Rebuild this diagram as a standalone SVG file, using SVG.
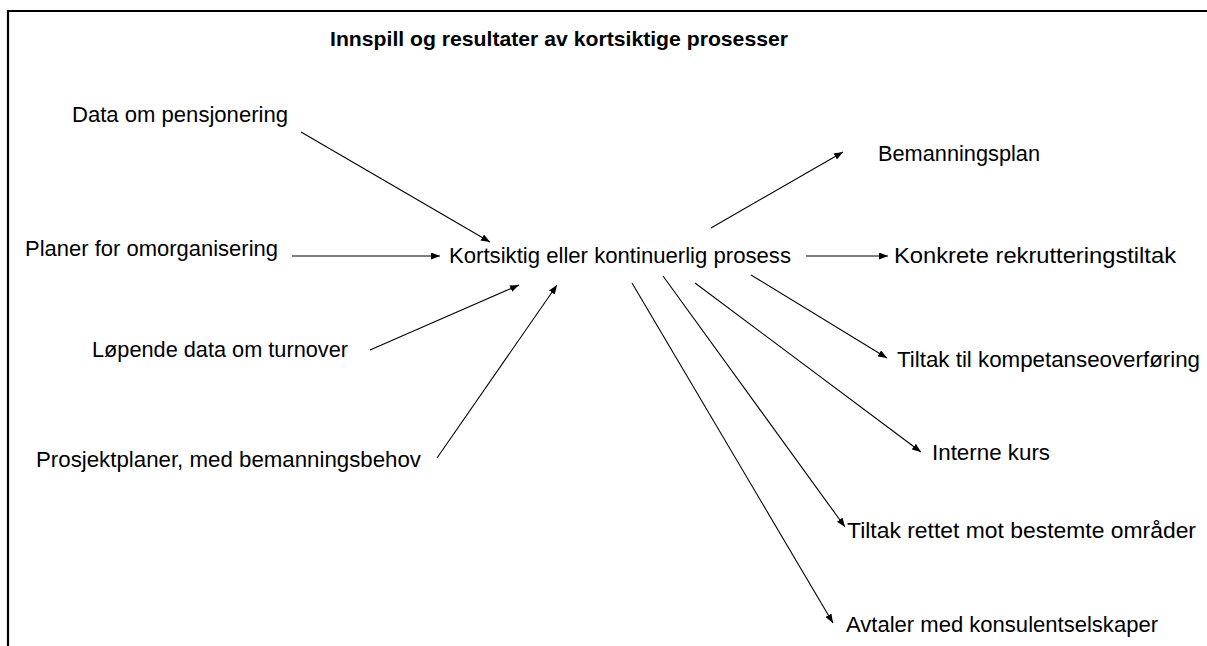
<svg xmlns="http://www.w3.org/2000/svg" width="1207" height="646" viewBox="0 0 1207 646">
<style>
.t{font-family:"Liberation Sans",Arial,sans-serif;font-size:22px;fill:#000}
.title{font-family:"Liberation Sans",Arial,sans-serif;font-size:21px;font-weight:bold;fill:#000}
.c line{stroke:#000;stroke-width:1.1;marker-end:url(#ah)}
</style>
<defs>
<marker id="ah" viewBox="0 0 9 7" refX="9" refY="3.5" markerWidth="9" markerHeight="7" markerUnits="userSpaceOnUse" orient="auto">
<path d="M0,0 L9,3.5 L0,7 Z" fill="#000"/>
</marker>
</defs>
<rect width="1207" height="646" fill="#fff"/>
<path d="M8,646 V11 H1207" fill="none" stroke="#000" stroke-width="2.2"/>
<text class="title" x="330" y="46" textLength="458" lengthAdjust="spacingAndGlyphs">Innspill og resultater av kortsiktige prosesser</text>
<g id="data-pensjonering"><text class="t" x="72" y="122" textLength="216" lengthAdjust="spacingAndGlyphs">Data om pensjonering</text></g>
<g id="planer-omorganisering"><text class="t" x="25" y="256" textLength="253" lengthAdjust="spacingAndGlyphs">Planer for omorganisering</text></g>
<g id="kortsiktig-prosess"><text class="t" x="449" y="263" textLength="342" lengthAdjust="spacingAndGlyphs">Kortsiktig eller kontinuerlig prosess</text></g>
<g id="lopende-turnover"><text class="t" x="92" y="357" textLength="256" lengthAdjust="spacingAndGlyphs">Løpende data om turnover</text></g>
<g id="prosjektplaner"><text class="t" x="36" y="467" textLength="385" lengthAdjust="spacingAndGlyphs">Prosjektplaner, med bemanningsbehov</text></g>
<g id="bemanningsplan"><text class="t" x="878" y="161" textLength="162" lengthAdjust="spacingAndGlyphs">Bemanningsplan</text></g>
<g id="konkrete-rekruttering"><text class="t" x="894" y="263" textLength="282" lengthAdjust="spacingAndGlyphs">Konkrete rekrutteringstiltak</text></g>
<g id="kompetanseoverforing"><text class="t" x="897" y="367" textLength="303" lengthAdjust="spacingAndGlyphs">Tiltak til kompetanseoverføring</text></g>
<g id="interne-kurs"><text class="t" x="932" y="460" textLength="118" lengthAdjust="spacingAndGlyphs">Interne kurs</text></g>
<g id="tiltak-rettet"><text class="t" x="847" y="538" textLength="349" lengthAdjust="spacingAndGlyphs">Tiltak rettet mot bestemte områder</text></g>
<g id="avtaler-konsulent"><text class="t" x="846" y="632" textLength="312" lengthAdjust="spacingAndGlyphs">Avtaler med konsulentselskaper</text></g>
<g id="connectors" class="c">
<line x1="301" y1="132" x2="490" y2="242"/>
<line x1="292" y1="256" x2="440" y2="256"/>
<line x1="370" y1="350" x2="519" y2="285"/>
<line x1="437" y1="458" x2="557" y2="285"/>
<line x1="711" y1="228" x2="843" y2="152"/>
<line x1="806" y1="256" x2="888" y2="256"/>
<line x1="751" y1="275" x2="887" y2="358"/>
<line x1="695" y1="283" x2="921" y2="452"/>
<line x1="663" y1="276" x2="845" y2="527"/>
<line x1="632" y1="283" x2="833" y2="623"/>
</g>
</svg>
